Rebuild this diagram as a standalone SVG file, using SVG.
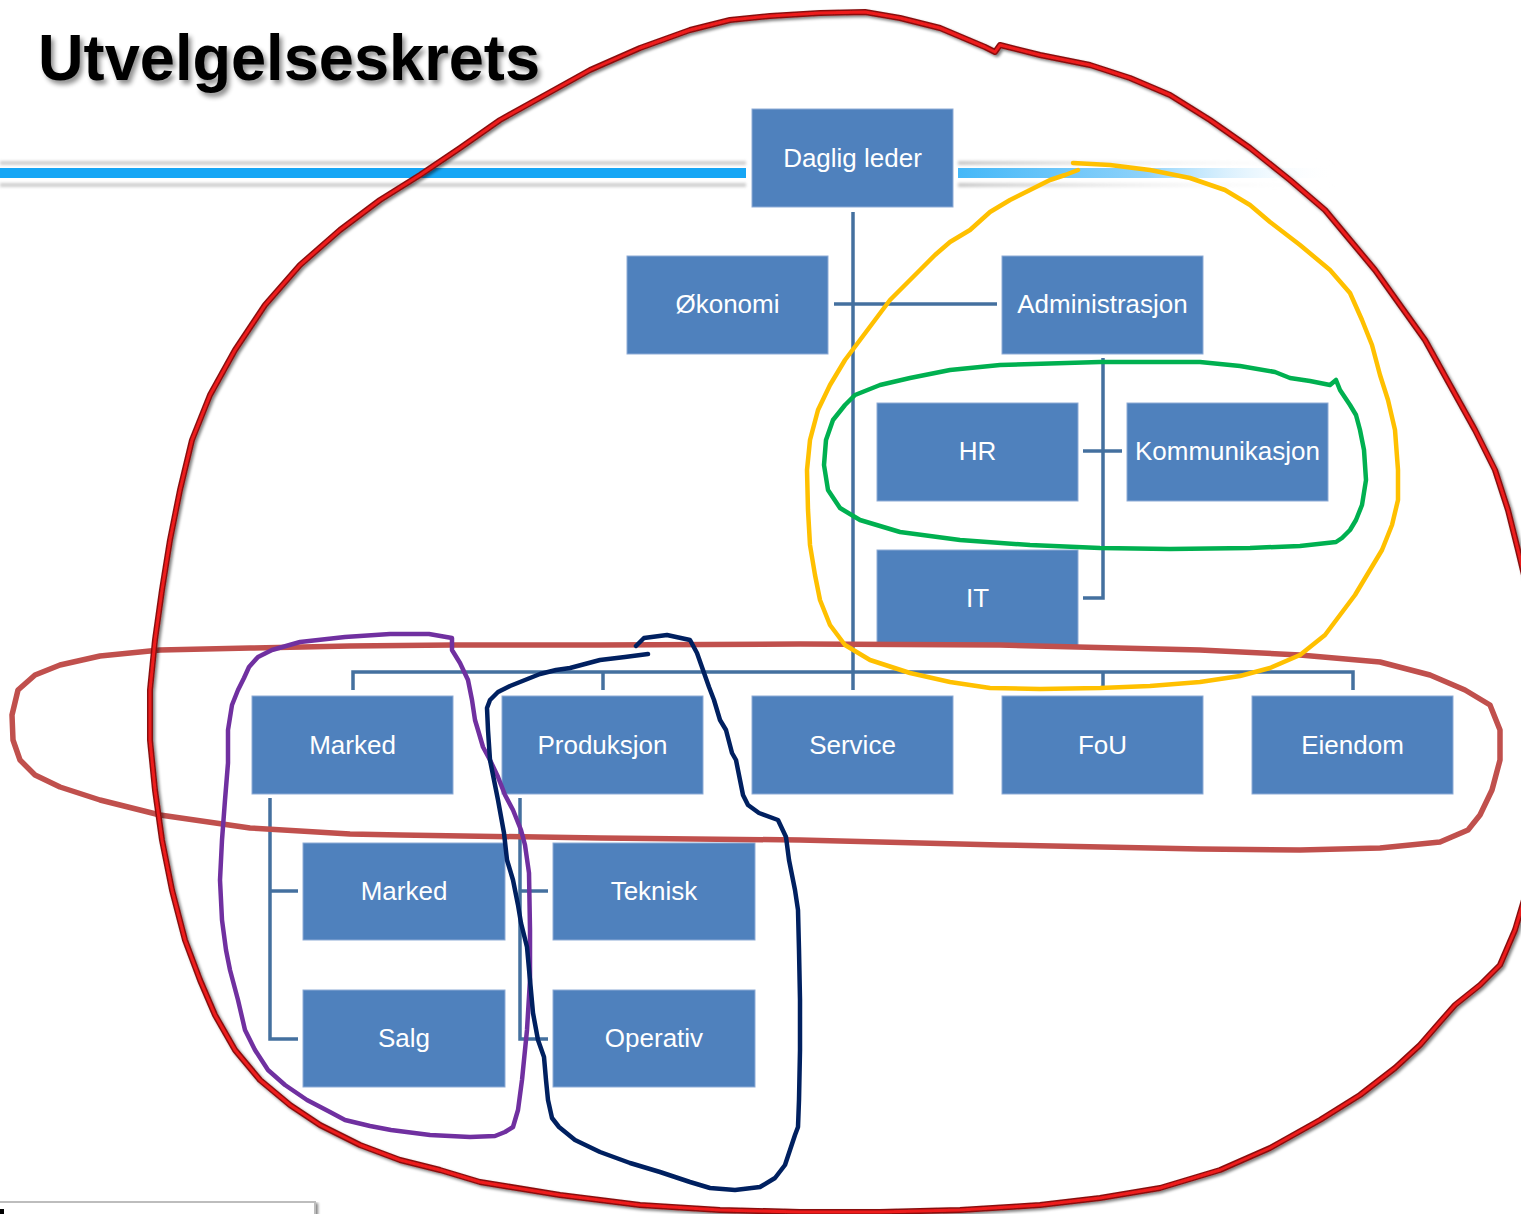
<svg xmlns="http://www.w3.org/2000/svg" width="1521" height="1214" viewBox="0 0 1521 1214">
  <defs>
    <style>
      .box { fill: #4F81BD; stroke: #8EABD6; stroke-width: 1; }
      .lbl { font-family: "Liberation Sans", Arial, sans-serif; font-size: 26px; fill: #FFFFFF; text-anchor: middle; }
      .conn { fill: none; stroke: #44709F; stroke-width: 3.5; stroke-linecap: butt; }
      .ink { fill: none; stroke-linejoin: round; stroke-linecap: round; }
    </style>
    <filter id="titleShadow" x="-5%" y="-20%" width="115%" height="160%">
      <feGaussianBlur in="SourceAlpha" stdDeviation="2.5"/>
      <feOffset dx="3" dy="4" result="b"/>
      <feComponentTransfer><feFuncA type="linear" slope="0.45"/></feComponentTransfer>
      <feMerge><feMergeNode/><feMergeNode in="SourceGraphic"/></feMerge>
    </filter>
    <filter id="inkShadow" x="-5%" y="-5%" width="110%" height="110%">
      <feGaussianBlur in="SourceAlpha" stdDeviation="1.5"/>
      <feOffset dx="2" dy="2"/>
      <feComponentTransfer><feFuncA type="linear" slope="0.5"/></feComponentTransfer>
      <feMerge><feMergeNode/><feMergeNode in="SourceGraphic"/></feMerge>
    </filter>
    <filter id="soft" x="-10%" y="-200%" width="120%" height="500%">
      <feGaussianBlur stdDeviation="1.8"/>
    </filter>
    <linearGradient id="fadeBlue" x1="958" y1="0" x2="1335" y2="0" gradientUnits="userSpaceOnUse">
      <stop offset="0" stop-color="#45B8F8"/>
      <stop offset="0.5" stop-color="#8ED2FA"/>
      <stop offset="1" stop-color="#FFFFFF" stop-opacity="0"/>
    </linearGradient>
    <linearGradient id="fadeGray" x1="958" y1="0" x2="1335" y2="0" gradientUnits="userSpaceOnUse">
      <stop offset="0" stop-color="#C8C8C8"/>
      <stop offset="1" stop-color="#FFFFFF" stop-opacity="0"/>
    </linearGradient>
  </defs>

  <rect width="1521" height="1214" fill="#FFFFFF"/>

  <!-- heading -->
  <text x="38" y="80" font-family="Liberation Sans, Arial, sans-serif" font-weight="bold" font-size="64" fill="#000000" textLength="502" lengthAdjust="spacingAndGlyphs" filter="url(#titleShadow)">Utvelgelseskrets</text>

  <!-- title rule -->
  <g id="rule">
    <rect x="0" y="161" width="746" height="4" fill="#CFCFCF" filter="url(#soft)"/>
    <rect x="0" y="183" width="746" height="4" fill="#CFCFCF" filter="url(#soft)"/>
    <rect x="0" y="168" width="746" height="10" fill="#16A6F5"/>
    <rect x="958" y="161" width="380" height="4" fill="url(#fadeGray)" filter="url(#soft)"/>
    <rect x="958" y="183" width="380" height="4" fill="url(#fadeGray)" filter="url(#soft)"/>
    <rect x="958" y="168" width="380" height="10" fill="url(#fadeBlue)"/>
  </g>

  <!-- connectors -->
  <g id="connectors">
    <path class="conn" d="M853,212 V690"/>
    <path class="conn" d="M834,304 H997"/>
    <path class="conn" d="M1103,358 V598 H1083"/>
    <path class="conn" d="M1083,451 H1122"/>
    <path class="conn" d="M353,690 V672 H1353 V690"/>
    <path class="conn" d="M603,672 V690"/>
    <path class="conn" d="M1103,672 V690"/>
    <path class="conn" d="M270,798 V1039 H298"/>
    <path class="conn" d="M270,891 H298"/>
    <path class="conn" d="M520,798 V1039 H548"/>
    <path class="conn" d="M520,891 H548"/>
  </g>

  <!-- org units -->
  <g id="daglig-leder"><rect class="box" x="752" y="109" width="201" height="98"/><text class="lbl" x="852.5" y="167">Daglig leder</text></g>
  <g id="okonomi"><rect class="box" x="627" y="256" width="201" height="98"/><text class="lbl" x="727.5" y="313">Økonomi</text></g>
  <g id="administrasjon"><rect class="box" x="1002" y="256" width="201" height="98"/><text class="lbl" x="1102.5" y="313">Administrasjon</text></g>
  <g id="hr"><rect class="box" x="877" y="403" width="201" height="98"/><text class="lbl" x="977.5" y="460">HR</text></g>
  <g id="kommunikasjon"><rect class="box" x="1127" y="403" width="201" height="98"/><text class="lbl" x="1227.5" y="460">Kommunikasjon</text></g>
  <g id="it"><rect class="box" x="877" y="550" width="201" height="96"/><text class="lbl" x="977.5" y="607">IT</text></g>
  <g id="marked"><rect class="box" x="252" y="696" width="201" height="98"/><text class="lbl" x="352.5" y="754">Marked</text></g>
  <g id="produksjon"><rect class="box" x="502" y="696" width="201" height="98"/><text class="lbl" x="602.5" y="754">Produksjon</text></g>
  <g id="service"><rect class="box" x="752" y="696" width="201" height="98"/><text class="lbl" x="852.5" y="754">Service</text></g>
  <g id="fou"><rect class="box" x="1002" y="696" width="201" height="98"/><text class="lbl" x="1102.5" y="754">FoU</text></g>
  <g id="eiendom"><rect class="box" x="1252" y="696" width="201" height="98"/><text class="lbl" x="1352.5" y="754">Eiendom</text></g>
  <g id="marked-sub"><rect class="box" x="303" y="843" width="202" height="97"/><text class="lbl" x="404" y="900">Marked</text></g>
  <g id="salg"><rect class="box" x="303" y="990" width="202" height="97"/><text class="lbl" x="404" y="1047">Salg</text></g>
  <g id="teknisk"><rect class="box" x="553" y="843" width="202" height="97"/><text class="lbl" x="654" y="900">Teknisk</text></g>
  <g id="operativ"><rect class="box" x="553" y="990" width="202" height="97"/><text class="lbl" x="654" y="1047">Operativ</text></g>

  <!-- frame edge at the lower left -->
  <g id="frame">
    <rect x="-10" y="1202" width="325" height="40" fill="#FFFFFF" stroke="#BDBDBD" stroke-width="2" filter="url(#inkShadow)"/>
    <rect x="0" y="1209" width="4" height="5" fill="#000000"/>
  </g>

  <!-- freehand markings -->
  <g id="markings">
    <path class="ink" stroke="#C0504D" stroke-width="5.5" d="M452,645 L600,645 800,644 1000,645 1200,650 1300,655 1380,662 1430,675 1465,690 1490,705 1500,730 1500,760 1492,790 1480,815 1468,830 1440,842 1380,848 1300,850 1200,849 1000,845 800,840 600,838 400,835 350,834 250,828 160,815 100,800 60,787 35,775 20,760 13,740 12,715 18,690 35,675 60,665 100,656 160,650 250,648 350,646 Z"/>
    <path class="ink" stroke="#FFC000" stroke-width="4.5" d="M1073,163 L1110,165 1150,170 1190,178 1225,190 1250,205 1270,222 1300,245 1330,270 1350,293 1362,320 1372,345 1380,375 1388,400 1395,430 1398,470 1398,500 1392,525 1382,550 1370,570 1355,595 1340,615 1325,635 1300,655 1270,668 1240,676 1200,682 1150,686 1100,688 1040,689 990,688 950,682 910,673 870,660 845,645 830,625 820,600 815,575 810,545 808,510 807,470 810,440 818,410 830,385 845,360 860,340 875,320 890,300 905,285 920,270 935,255 950,242 970,230 990,212 1010,200 1030,190 1050,180 1065,175 1078,170"/>
    <path class="ink" stroke="#00B050" stroke-width="4.5" d="M855,395 L880,385 910,378 950,370 1000,365 1100,362 1200,362 1240,366 1275,372 1290,378 1310,381 1330,385 1336,380 1340,390 1350,405 1356,415 1360,430 1364,450 1366,480 1362,505 1356,520 1350,530 1342,538 1336,542 1300,546 1250,548 1170,549 1100,548 1030,545 960,540 900,532 860,520 840,508 828,490 824,465 826,440 833,420 845,405 Z"/>
    <path class="ink" stroke="#7030A0" stroke-width="4.5" d="M452,638 L429,634 390,634 345,637 300,642 272,650 258,657 249,667 244,678 238,690 232,705 228,730 228,763 225,800 222,840 220,880 222,920 226,950 230,970 238,1000 245,1030 255,1050 268,1070 285,1085 307,1100 330,1112 345,1120 370,1126 391,1130 430,1135 470,1137 495,1136 505,1132 513,1127 518,1110 522,1080 527,1030 530,980 530,930 529,873 525,845 521,830 513,810 505,795 498,777 490,760 483,747 478,730 475,720 472,700 468,680 460,663 452,650 Z"/>
    <path class="ink" stroke="#002060" stroke-width="4.5" d="M648,654 L625,657 600,660 585,664 570,668 556,670 540,674 525,680 510,686 498,692 490,700 487,708 488,730 490,760 494,780 498,800 504,833 507,860 513,880 518,905 521,923 527,947 530,980 533,1013 538,1040 544,1057 546,1080 548,1100 552,1118 559,1127 575,1140 600,1152 630,1163 660,1172 690,1182 710,1188 735,1190 760,1187 775,1178 785,1165 790,1150 795,1135 798,1127 799,1100 800,1050 800,1000 799,950 798,910 795,890 789,860 786,837 778,820 759,813 748,805 743,795 740,780 736,760 732,753 726,730 720,720 714,700 709,687 703,670 697,653 690,640 667,635 644,638 636,646"/>
    <g filter="url(#inkShadow)">
      <path class="ink" stroke="#8A1010" stroke-width="6" d="M770,16 L820,13 865,12 900,18 940,28 985,47 995,52 1000,45 1040,55 1090,65 1130,78 1170,95 1210,120 1250,148 1290,180 1325,210 1350,240 1375,270 1400,305 1425,340 1450,385 1475,430 1495,470 1508,510 1518,550 1530,600 1530,880 1515,930 1500,965 1480,985 1455,1005 1440,1022 1420,1045 1395,1068 1360,1095 1320,1120 1270,1148 1220,1170 1160,1188 1100,1198 1040,1205 960,1210 880,1212 800,1212 720,1210 640,1205 560,1195 480,1182 440,1170 400,1160 360,1145 320,1125 290,1105 260,1080 235,1050 215,1015 200,980 185,940 172,890 162,840 155,790 150,740 150,690 155,640 162,590 170,540 180,490 192,440 210,395 235,350 265,305 300,265 340,230 380,200 420,175 460,148 500,120 545,95 590,70 640,48 690,30 730,20 Z"/>
      <path class="ink" stroke="#EE1C1C" stroke-width="3" d="M770,16 L820,13 865,12 900,18 940,28 985,47 995,52 1000,45 1040,55 1090,65 1130,78 1170,95 1210,120 1250,148 1290,180 1325,210 1350,240 1375,270 1400,305 1425,340 1450,385 1475,430 1495,470 1508,510 1518,550 1530,600 1530,880 1515,930 1500,965 1480,985 1455,1005 1440,1022 1420,1045 1395,1068 1360,1095 1320,1120 1270,1148 1220,1170 1160,1188 1100,1198 1040,1205 960,1210 880,1212 800,1212 720,1210 640,1205 560,1195 480,1182 440,1170 400,1160 360,1145 320,1125 290,1105 260,1080 235,1050 215,1015 200,980 185,940 172,890 162,840 155,790 150,740 150,690 155,640 162,590 170,540 180,490 192,440 210,395 235,350 265,305 300,265 340,230 380,200 420,175 460,148 500,120 545,95 590,70 640,48 690,30 730,20 Z"/>
    </g>
  </g>
</svg>
